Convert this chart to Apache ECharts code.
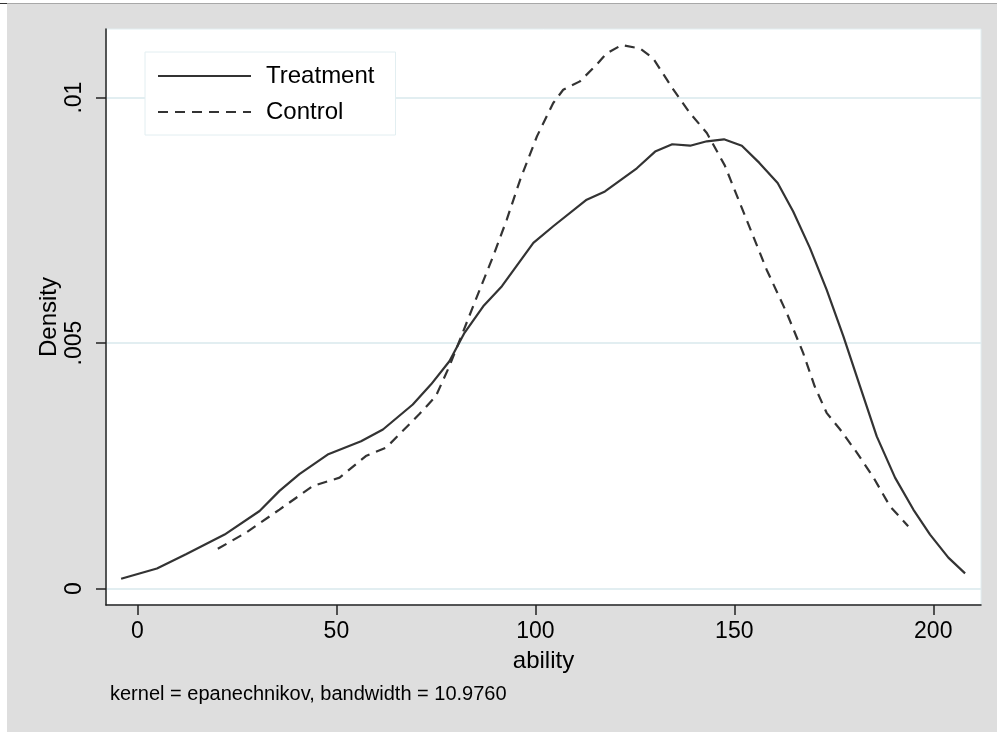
<!DOCTYPE html>
<html>
<head>
<meta charset="utf-8">
<title>kdensity ability</title>
<script src="https://cdn.jsdelivr.net/npm/echarts@6/dist/echarts.min.js"></script>
<style>
    html, body { margin: 0; padding: 0; background: #fff; }
    #chart { width: 997px; height: 732px; }
</style>
</head>
<body>
<div id="chart"></div>
<script>
// kernel density estimates: [ability, density]
var treatment = [
    [-4.1, 0.00020], [4.9, 0.00041], [12.2, 0.00070], [21.9, 0.00110], [30.7, 0.00158],
    [35.7, 0.00199], [40.7, 0.00233], [47.8, 0.00273], [56.2, 0.00300], [61.7, 0.00324],
    [69.2, 0.00375], [73.8, 0.00416], [78.4, 0.00463], [82.2, 0.00521], [86.9, 0.00575],
    [91.6, 0.00616], [99.5, 0.00704], [104.5, 0.00738], [112.9, 0.00792], [117.5, 0.00809],
    [125.5, 0.00856], [130.1, 0.00890], [134.4, 0.00905], [138.9, 0.00902], [143.1, 0.00911],
    [147.4, 0.00915], [151.9, 0.00902], [156.3, 0.00867], [160.9, 0.00826], [164.8, 0.00768],
    [169.0, 0.00694], [173.2, 0.00609], [177.4, 0.00514], [181.6, 0.00412], [185.8, 0.00310],
    [190.4, 0.00226], [195.0, 0.00161], [199.2, 0.00110], [203.8, 0.00063], [208.0, 0.00031]
];
var control = [
    [20.2, 0.00081], [27.3, 0.00114], [35.7, 0.00161], [44.1, 0.00209], [50.8, 0.00226],
    [57.4, 0.00270], [62.5, 0.00287], [65.8, 0.00314], [70.8, 0.00355], [75.0, 0.00392],
    [78.4, 0.00453], [81.2, 0.00510], [85.2, 0.00592], [89.4, 0.00677], [92.8, 0.00751],
    [96.2, 0.00833], [100.4, 0.00921], [104.5, 0.00989], [107.0, 0.01016], [111.2, 0.01033],
    [115.4, 0.01067], [117.9, 0.01090], [121.7, 0.01107], [126.3, 0.01100], [129.6, 0.01080],
    [134.7, 0.01016], [138.9, 0.00968], [143.1, 0.00928], [147.6, 0.00862], [153.1, 0.00751],
    [158.1, 0.00650], [163.2, 0.00561], [167.3, 0.00480], [170.2, 0.00412], [173.2, 0.00358],
    [176.6, 0.00324], [180.8, 0.00277], [185.0, 0.00226], [189.1, 0.00168], [193.7, 0.00127]
];
var xTicks = [0, 50, 100, 150, 200];
var yTicks = [0, 0.005, 0.01];
var seriesNames = ["Treatment", "Control"];
var noteText = "kernel = epanechnikov, bandwidth = 10.9760";

var font = "'Liberation Sans', Arial, Helvetica, sans-serif";
var gridColor = "#e2eef1";
var lineColor = "#333";

function yLabel(v){
    if (v == 0) return "0";
    return String(v).replace(/^0/, "");   // stata style: .005, .01
}

function getOption(){
    var option = {
        backgroundColor: "#dedede",
        animation: false,
        textStyle: { fontFamily: font },
        graphic: [
            { type: "rect", shape: { x: 0, y: 0, width: 997, height: 3 }, style: { fill: "#fff" } },
            { type: "rect", shape: { x: 0, y: 3, width: 7, height: 729 }, style: { fill: "#fff" } },
            { type: "line", shape: { x1: 7, y1: 3.5, x2: 997, y2: 3.5 }, style: { stroke: "#a8a8a8", lineWidth: 1 } },
            { type: "line", shape: { x1: 0, y1: 3.5, x2: 7, y2: 3.5 }, style: { stroke: "#333", lineWidth: 1 } },
            {
                type: "text", left: 110, top: 684,
                style: { text: noteText, font: "20px " + font, fill: "#000" }
            }
        ],
        grid: {
            show: true,
            left: 106, top: 29, right: 16, bottom: 127,
            backgroundColor: "#fff",
            borderColor: gridColor,
            borderWidth: 1
        },
        legend: {
            orient: "vertical",
            left: 145, top: 52,
            padding: [12, 21, 11, 12],
            itemGap: 12,
            itemWidth: 93,
            itemHeight: 14,
            backgroundColor: "#fff",
            borderColor: gridColor,
            borderWidth: 1,
            itemStyle: { color: "rgba(0,0,0,0)", borderWidth: 0 },   // line only, no marker
            textStyle: { fontSize: 24, color: "#000", lineHeight: 24, padding: [0, 0, 0, 10], fontFamily: font },
            data: seriesNames
        },
        xAxis: {
            type: "value",
            min: -7.9, max: 212,
            name: "ability",
            nameLocation: "middle",
            nameGap: 44,
            nameMoveOverlap: false,
            nameTextStyle: { fontSize: 24, color: "#000" },
            axisLine: { onZero: false, lineStyle: { color: "#222", width: 1.5 } },
            axisTick: { show: true, length: 10, customValues: xTicks, lineStyle: { color: "#222", width: 1.5 } },
            axisLabel: { customValues: xTicks, fontSize: 23, color: "#000", margin: 15 },
            splitLine: { show: false }
        },
        yAxis: {
            type: "value",
            min: -0.000334, max: 0.011397,
            name: "Density",
            nameLocation: "middle",
            nameGap: 45,
            nameMoveOverlap: false,
            nameTextStyle: { fontSize: 24, color: "#000" },
            axisLine: { show: true, onZero: false, lineStyle: { color: "#222", width: 1.5 } },
            axisTick: { show: true, length: 10, customValues: yTicks, lineStyle: { color: "#222", width: 1.5 } },
            axisLabel: {
                customValues: yTicks, rotate: 90, fontSize: 23, color: "#000", margin: 20,
                formatter: yLabel
            },
            splitLine: { show: true, lineStyle: { color: gridColor, width: 2 } }
        },
        series: []
    };

    var sets = [treatment, control];
    var types = ["solid", [10, 7]];
    for (var i = 0; i < sets.length; i++){
        option.series.push({
            name: seriesNames[i],
            type: "line",
            data: sets[i],
            symbol: "none",
            smooth: false,
            lineStyle: { color: lineColor, width: 2.2, type: types[i] },
            itemStyle: { color: lineColor }
        });
    }
    return option;
}

var myChart = echarts.init(document.getElementById("chart"), null, { renderer: "canvas" });
myChart.setOption(getOption());
</script>
</body>
</html>
